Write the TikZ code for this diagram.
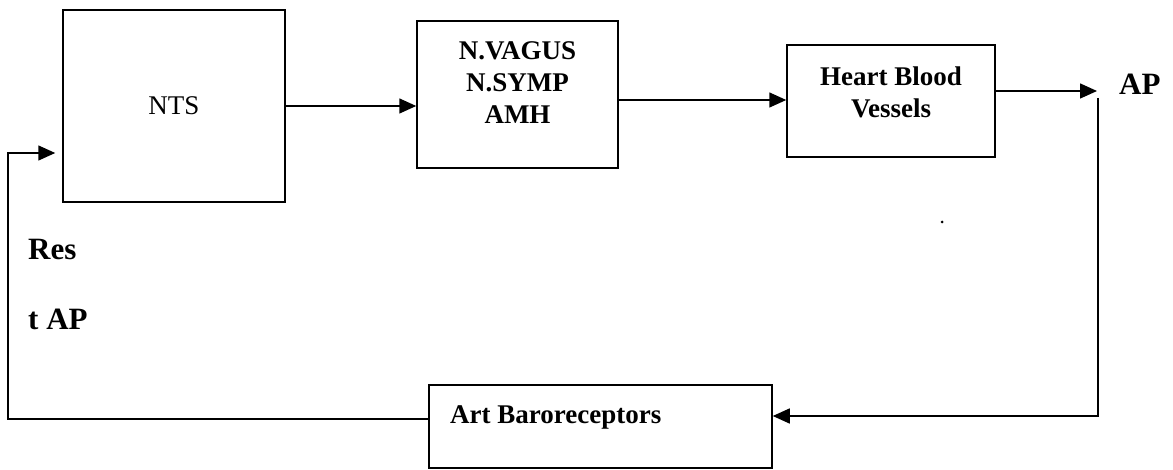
\documentclass[tikz,border=0pt]{standalone}
\usepackage{fontspec}
\setmainfont{Liberation Serif}
\usetikzlibrary{arrows.meta}
\begin{document}
\begin{tikzpicture}[x=1pt,y=-1pt,
  box/.style={draw,line width=1.5pt,rectangle,inner sep=0pt},
  conn/.style={line width=1.5pt},
  arr/.style={conn,-{Triangle[length=17pt,width=15pt]}},
  boxtxt/.style={font=\fontsize{27}{32}\selectfont\bfseries,align=center,inner sep=0pt},
  bigtxt/.style={font=\fontsize{31}{36}\selectfont\bfseries,inner sep=0pt,anchor=west}]
\useasboundingbox (0,0) rectangle (1173,470);
% boxes
\node[box,minimum width=222pt,minimum height=192pt,font=\fontsize{27}{32}\selectfont] (nts) at (174,106) {NTS};
\node[box,minimum width=201pt,minimum height=147pt] (b2) at (517.5,94.5) {};
\node[boxtxt] (b2t) at (517.5,83) {N.VAGUS\\N.SYMP\\AMH};
\node[box,minimum width=208pt,minimum height=112pt] (b3) at (891,101) {};
\node[boxtxt] (b3t) at (891,92) {Heart Blood\\Vessels};
\node[box,minimum width=343pt,minimum height=83pt] (art) at (600.5,426.5) {};
\node[boxtxt,anchor=west] (artt) at (450,417) {Art Baroreceptors};
% labels
\node[bigtxt] (ap) at (1119,84) {AP};
\node[bigtxt] (res) at (28,250) {Res};
\node[bigtxt] (tap) at (28,319) {t AP};
% helper coordinates
\coordinate (y100) at (0,100);
\coordinate (apend) at (1097,91);
\coordinate (rtop) at (1098,98);
\coordinate (rbot) at (1098,416);
\coordinate (lbot) at (8,419);
\coordinate (ltop) at (8,153);
% connectors
\draw[arr] (nts.east) -- (nts.east -| b2.west);
\draw[arr] (b2.east |- y100) -- (b3.west |- y100);
\draw[arr] (b3.east |- apend) -- (apend);
\draw[arr] (rtop) -- (rbot) -- (rbot -| art.east);
\draw[arr,shorten >=7pt] (art.west |- lbot) -- (lbot) -- (ltop) -- (ltop -| nts.west);
% speck
\fill (942,222) circle (1.5pt);
\end{tikzpicture}
\end{document}
